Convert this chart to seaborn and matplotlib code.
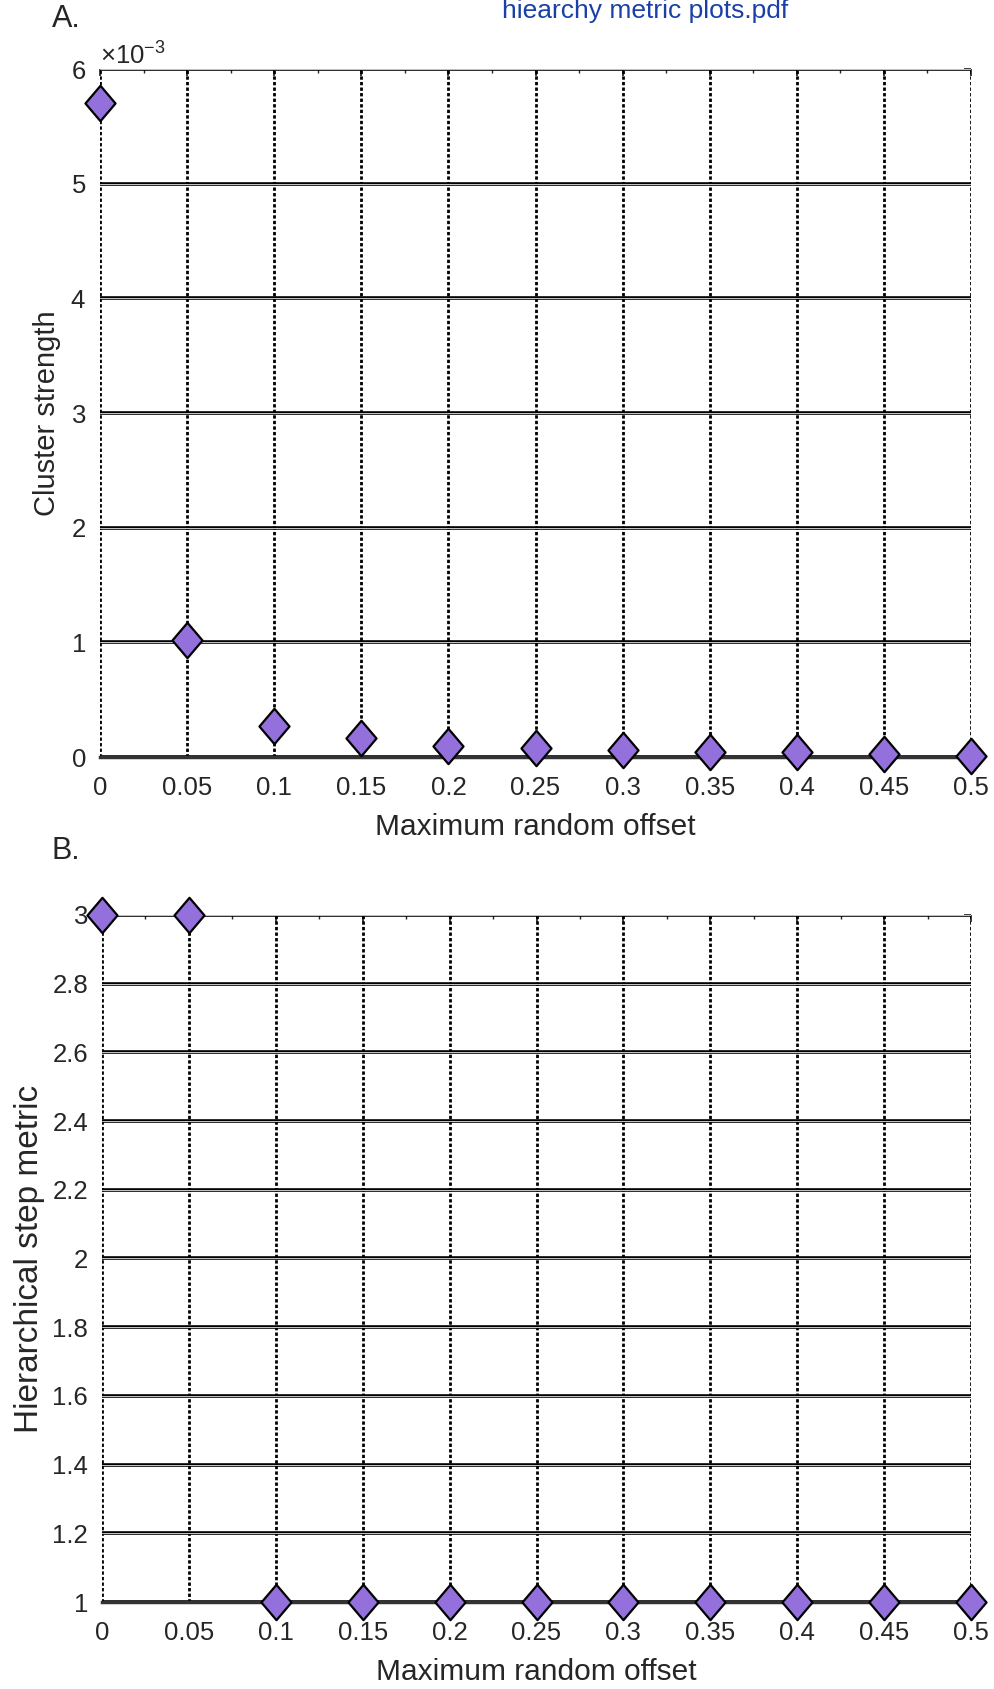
import matplotlib
matplotlib.use("Agg")
import matplotlib.pyplot as plt
import matplotlib.ticker as mticker
from matplotlib.path import Path
import numpy as np
import pandas as pd
import seaborn as sns

# Data
offsets = [0, 0.05, 0.1, 0.15, 0.2, 0.25, 0.3, 0.35, 0.4, 0.45, 0.5]
cluster_strength = [5.70e-3, 1.02e-3, 0.27e-3, 0.165e-3, 0.10e-3, 0.075e-3,
                    0.06e-3, 0.045e-3, 0.045e-3, 0.03e-3, 0.01e-3]
hier_step = [3, 3, 1, 1, 1, 1, 1, 1, 1, 1, 1]

x_ticks = offsets
x_tick_labels = ["0", "0.05", "0.1", "0.15", "0.2", "0.25", "0.3", "0.35", "0.4", "0.45", "0.5"]
a_yticks = [0, 1e-3, 2e-3, 3e-3, 4e-3, 5e-3, 6e-3]
b_yticks = [1, 1.2, 1.4, 1.6, 1.8, 2, 2.2, 2.4, 2.6, 2.8, 3]
b_ytick_labels = ["1", "1.2", "1.4", "1.6", "1.8", "2", "2.2", "2.4", "2.6", "2.8", "3"]

df = pd.DataFrame({"offset": offsets, "cluster": cluster_strength, "step": hier_step})

sns.set_theme(style="white")
plt.rcParams["font.family"] = ["Liberation Sans", "DejaVu Sans"]
plt.rcParams["mathtext.fontset"] = "custom"
plt.rcParams["mathtext.rm"] = "Liberation Sans"
plt.rcParams["mathtext.it"] = "Liberation Sans:italic"

TEXT = "#262626"
PURPLE = "#9370DB"
diamond = Path([(-0.85, 0), (0, 1), (0.85, 0), (0, -1), (-0.85, 0)],
               [Path.MOVETO, Path.LINETO, Path.LINETO, Path.LINETO, Path.CLOSEPOLY])

fig = plt.figure(figsize=(9.94, 16.89), dpi=100)
axA = fig.add_axes([0.1006, 0.5518, 0.8763, 0.4073])
axB = fig.add_axes([0.1026, 0.0515, 0.8743, 0.4068])


def style_axes(ax, yticks):
    ax.set_xlim(0, 0.5)
    ax.set_xticks(x_ticks)
    ax.set_xticklabels(x_tick_labels)
    ax.set_yticks(yticks)
    ax.xaxis.set_minor_locator(mticker.AutoMinorLocator(2))
    ax.tick_params(axis="both", which="both", direction="in", colors=TEXT,
                   labelsize=18.5, top=True, right=True)
    ax.tick_params(axis="x", which="major", pad=14, length=5)
    ax.tick_params(axis="y", which="major", pad=10, length=5)
    ax.tick_params(which="minor", length=3)
    for side in ["top", "right", "left"]:
        ax.spines[side].set_visible(False)
    ax.spines["bottom"].set_color("#333333")
    ax.spines["bottom"].set_linewidth(2.5)
    # vertical dotted grid
    for xv in x_ticks:
        ax.axvline(xv, color="black", lw=2.0, ls=(0, (1.2, 0.8)), zorder=1)
    # horizontal double-line grid
    for yv in yticks:
        ax.axhline(yv, color="black", lw=2.6, zorder=1)
        ax.axhline(yv, color="#c8c8c8", lw=0.7, zorder=1.1)
    ax.set_xlabel("Maximum random offset", fontsize=21.5, color=TEXT, labelpad=9)


# Panel A
sns.scatterplot(data=df, x="offset", y="cluster", ax=axA, marker=diamond, s=650,
                color=PURPLE, edgecolor="black", linewidth=1.6, zorder=5, clip_on=False)
axA.set_ylim(0, 6e-3)
style_axes(axA, a_yticks)
axA.ticklabel_format(axis="y", style="sci", scilimits=(-3, -3), useMathText=True)
axA.yaxis.get_offset_text().set_fontsize(18.5)
axA.yaxis.get_offset_text().set_color(TEXT)
axA.set_ylabel("Cluster strength", fontsize=21, color=TEXT, labelpad=7)

# Panel B
sns.scatterplot(data=df, x="offset", y="step", ax=axB, marker=diamond, s=650,
                color=PURPLE, edgecolor="black", linewidth=1.6, zorder=5, clip_on=False)
axB.set_ylim(1, 3)
style_axes(axB, b_yticks)
axB.set_yticklabels(b_ytick_labels)
axB.set_ylabel("Hierarchical step metric", fontsize=24, color=TEXT, labelpad=5)

fig.text(0.052, 0.9887, "A.", fontsize=22, color=TEXT, va="center", ha="left")
fig.text(0.052, 0.4962, "B.", fontsize=22, color=TEXT, va="center", ha="left")
fig.text(0.793, 0.9935, "hiearchy metric plots.pdf", fontsize=19, color="#1a3fa6",
         va="center", ha="right")

fig.savefig("out.png", dpi=100)
